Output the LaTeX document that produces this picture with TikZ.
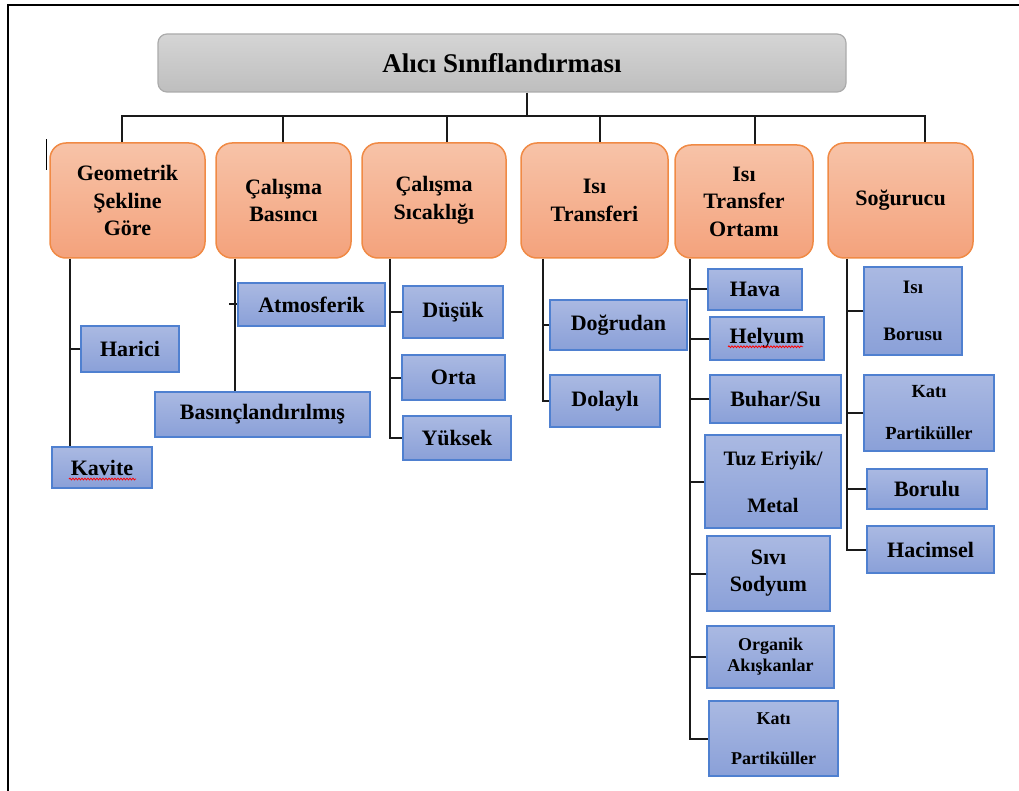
\documentclass[tikz,border=0pt]{standalone}
\usepackage{fontspec}
\setmainfont{Liberation Serif}
\usetikzlibrary{positioning,calc,decorations.pathmorphing}
\definecolor{titletop}{HTML}{D5D5D5}
\definecolor{titlebot}{HTML}{BEBEBE}
\definecolor{titleline}{HTML}{ABABAB}
\definecolor{headtop}{HTML}{F7C3A8}
\definecolor{headbot}{HTML}{F4A27C}
\definecolor{headline}{HTML}{F08A45}
\definecolor{itemtop}{HTML}{AAB9E2}
\definecolor{itembot}{HTML}{8AA0D8}
\definecolor{itemline}{HTML}{4F80D0}
\definecolor{linkgray}{HTML}{1A1A1A}

\begin{document}
\begin{tikzpicture}[x=1pt,y=-1pt,
  titlebox/.style={draw=titleline,line width=1.2pt,rounded corners=9pt,
    top color=titletop,bottom color=titlebot,
    font=\fontsize{27}{32}\selectfont\bfseries},
  headbox/.style={draw=headline,line width=1.5pt,rounded corners=16pt,
    top color=headtop,bottom color=headbot,align=center,
    font=\fontsize{22}{27.5}\selectfont\bfseries},
  itembox/.style={draw=itemline,line width=1.5pt,
    top color=itemtop,bottom color=itembot,align=center,
    font=\fontsize{22}{27}\selectfont\bfseries},
  link/.style={draw=linkgray,line width=2pt},
  spell/.style={draw=red,line width=0.8pt,decorate,
    decoration={snake,amplitude=0.9pt,segment length=3pt}}]
\useasboundingbox (0,0) rectangle (1019,791);
\draw[line width=2pt] (8,791) -- (8,5) -- (1019,5);

% top
\node[titlebox,minimum width=688pt,minimum height=58pt] (title) at (502,63) {Alıcı Sınıflandırması};

% main groups
\node[headbox,minimum width=155pt,minimum height=115pt] (geo) at (127.5,200.5) {Geometrik\\Şekline\\Göre};
\node[headbox,minimum width=135pt,minimum height=115pt] (basinc) at (283.5,200.5) {Çalışma\\Basıncı};
\node[headbox,minimum width=144pt,minimum height=115pt] (sicak) at (434,200.5) {Çalışma\\Sıcaklığı};
\node[headbox,minimum width=147pt,minimum height=115pt] (transfer) at (594.5,200.5) {Isı\\Transferi};
\node[headbox,minimum width=138pt,minimum height=113pt] (ortam) at (744,201.5) {Isı\\Transfer\\Ortamı};
\node[headbox,minimum width=145pt,minimum height=115pt] (sogur) at (900.5,200.5) {Soğurucu};
\draw[line width=1.5pt] ([xshift=-3pt,yshift=3pt]geo.north west) -- ++(0,31);

% bus
\draw[link] ([xshift=25pt]title.south) -- ++(0,23) coordinate (busmid);
\draw[link] ([xshift=-5.5pt]geo.north) |- (busmid) -| ([xshift=24.5pt]sogur.north);
\foreach \n/\s in {basinc/-0.5,sicak/13,transfer/5.5,ortam/11}
  \draw[link] ([xshift=\s pt]\n.north) -- ([xshift=\s pt]\n.north |- busmid);

% Geometrik Sekline Gore
\node[itembox,minimum width=98pt,minimum height=46pt] (harici) at (130,349) {Harici};
\node[itembox,minimum width=100pt,minimum height=41pt] (kavite) at (102,467.5) {Kavite};
\coordinate (t1) at ([xshift=-57.5pt]geo.south);
\draw[link] (t1) -- (t1 |- kavite.north);
\draw[link] (harici.west) -- (harici.west -| t1);
\draw[spell] ([xshift=-33pt,yshift=-4pt]kavite.base) -- ([xshift=34pt,yshift=-4pt]kavite.base);

% Calisma Basinci
\node[itembox,minimum width=147pt,minimum height=43pt] (atmos) at (311.5,304.5) {Atmosferik};
\node[itembox,minimum width=215pt,minimum height=45pt] (basincli) at (262.5,414.5) {Basınçlandırılmış};
\coordinate (t2) at ([xshift=-48.5pt]basinc.south);
\draw[link] (t2) -- (t2 |- basincli.north);
\draw[link] (atmos.west) -- ++(-8,0);

% Calisma Sicakligi
\node[itembox,minimum width=100pt,minimum height=52pt] (dusuk) at (453,312) {Düşük};
\node[itembox,minimum width=103pt,minimum height=45pt] (orta) at (453.5,377.5) {Orta};
\node[itembox,minimum width=108pt,minimum height=44pt] (yuksek) at (457,438) {Yüksek};
\coordinate (t3) at ([xshift=-44pt]sicak.south);
\draw[link] (t3) |- (yuksek.west);
\foreach \n in {dusuk,orta}
  \draw[link] (\n.west) -- (\n.west -| t3);

% Isi Transferi
\node[itembox,minimum width=137pt,minimum height=50pt] (dogrudan) at (618.5,325) {Doğrudan};
\node[itembox,minimum width=110pt,minimum height=52pt] (dolayli) at (605,401) {Dolaylı};
\coordinate (t4) at ([xshift=-51.5pt]transfer.south);
\draw[link] (t4) |- (dolayli.west);
\draw[link] (dogrudan.west) -- (dogrudan.west -| t4);

% Isi Transfer Ortami
\node[itembox,minimum width=94pt,minimum height=41pt] (hava) at (755,289.5) {Hava};
\node[itembox,minimum width=114pt,minimum height=43pt] (helyum) at (767,338.5) {Helyum};
\node[itembox,minimum width=131pt,minimum height=48pt] (buhar) at (775.5,399) {Buhar/Su};
\node[itembox,minimum width=136pt,minimum height=93pt,
  font=\fontsize{20.5}{47}\selectfont\bfseries] (tuz) at (773,481.5) {Tuz Eriyik/\\Metal};
\node[itembox,minimum width=123pt,minimum height=75pt] (sivi) at (768.5,573.5) {Sıvı\\Sodyum};
\node[itembox,minimum width=127pt,minimum height=62pt,
  font=\fontsize{18}{21}\selectfont\bfseries] (organik) at (770.5,657) {Organik\\Akışkanlar};
\node[itembox,minimum width=129pt,minimum height=75pt,
  font=\fontsize{18}{40}\selectfont\bfseries] (kati) at (773.5,738.5) {Katı\\Partiküller};
\coordinate (t5) at ([xshift=-54pt]ortam.south);
\draw[link] (t5) |- (kati.west);
\foreach \n in {hava,helyum,buhar,tuz,sivi,organik}
  \draw[link] (\n.west) -- (\n.west -| t5);
\draw[spell] ([xshift=-39pt,yshift=-3pt]helyum.base) -- ([xshift=36pt,yshift=-3pt]helyum.base);

% Sogurucu
\node[itembox,minimum width=98pt,minimum height=88pt,
  font=\fontsize{19}{47}\selectfont\bfseries] (isiboru) at (913,311) {Isı\\Borusu};
\node[itembox,minimum width=130pt,minimum height=76pt,
  font=\fontsize{18.5}{42}\selectfont\bfseries] (katipart) at (929,413) {Katı\\Partiküller};
\node[itembox,minimum width=120pt,minimum height=40pt] (borulu) at (927,489) {Borulu};
\node[itembox,minimum width=127pt,minimum height=47pt] (hacimsel) at (930.5,549.5) {Hacimsel};
\coordinate (t6) at ([xshift=-53.5pt]sogur.south);
\draw[link] (t6) |- (hacimsel.west);
\foreach \n in {isiboru,katipart,borulu}
  \draw[link] (\n.west) -- (\n.west -| t6);
\end{tikzpicture}
\end{document}
